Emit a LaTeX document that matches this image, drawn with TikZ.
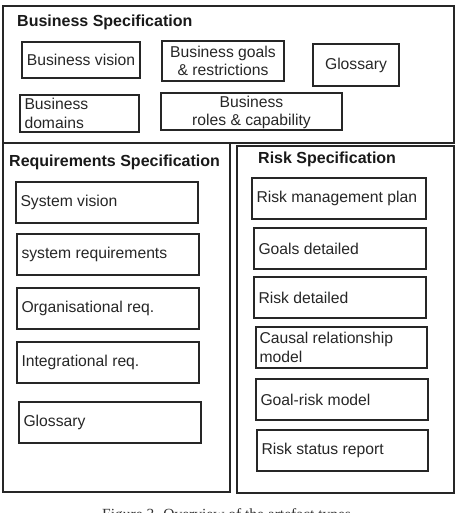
\documentclass[tikz,border=0pt]{standalone}
\usepackage{fontspec}
\setmainfont{Liberation Sans}
\newfontfamily\capfont{Liberation Serif}
\usetikzlibrary{fit}
\begin{document}
\begin{tikzpicture}[x=1pt,y=-1pt,
 outer/.style={draw=black!85, line width=1.5pt, inner sep=0pt},
 inbox/.style={draw=black!85, line width=1.35pt, inner sep=0pt},
 title/.style={font=\fontsize{16}{19}\selectfont\bfseries, text=black!90, inner sep=0pt, anchor=base west},
 txt/.style={font=\fontsize{15.7}{18.5}\selectfont, text=black!85, inner sep=0pt, align=left, anchor=west},
 ctxt/.style={font=\fontsize{15.7}{18.5}\selectfont, text=black!85, inner sep=0pt, align=center, anchor=center}]
\useasboundingbox (0,0) rectangle (459,513);

% outer containers
\node[outer, fit={(3,6) (454,143)}] (bus) {};
\node[outer, fit={(3,143) (230,492)}] (req) {};
\node[outer, fit={(237,146) (454,493)}] (risk) {};

\node[title] (bust) at (17,27) {Business Specification};
\node[title] (reqt) at (9,166) {Requirements Specification};
\node[title] (riskt) at (258,164) {Risk Specification};

% business boxes
\node[inbox, fit={(22,42) (140,78)}] (bv) {};
\node[ctxt] (bvt) at (bv.center) {Business vision};
\node[inbox, fit={(162,41) (284,81)}] (bg) {};
\node[ctxt] (bgt) at (bg.center) {Business goals\\\& restrictions};
\node[inbox, fit={(313,44) (399,86)}] (bgl) {};
\node[ctxt] (bglt) at (bgl.center) {Glossary};
\node[inbox, fit={(20,95) (139,132)}] (bd) {};
\node[txt] (bdt) at ([xshift=5pt]bd.west) {Business\\domains};
\node[inbox, fit={(161,93) (342,130)}] (br) {};
\node[ctxt] (brt) at ([yshift=-1pt]br.center) {Business\\roles \& capability};

% requirements boxes
\node[inbox, fit={(16,182) (198,223)}] (sv) {};
\node[txt] (svt) at ([xshift=5pt]sv.west) {System vision};
\node[inbox, fit={(17,234) (199,275)}] (sr) {};
\node[txt] (srt) at ([xshift=5pt]sr.west) {system requirements};
\node[inbox, fit={(17,288) (199,329)}] (org) {};
\node[txt] (orgt) at ([xshift=5pt]org.west) {Organisational req.};
\node[inbox, fit={(17,342) (199,383)}] (intg) {};
\node[txt] (intgt) at ([xshift=5pt]intg.west) {Integrational req.};
\node[inbox, fit={(19,402) (201,443)}] (rgl) {};
\node[txt] (rglt) at ([xshift=5pt]rgl.west) {Glossary};

% risk boxes
\node[inbox, fit={(252,178) (426,219)}] (rmp) {};
\node[txt] (rmpt) at ([xshift=5pt]rmp.west) {Risk management plan};
\node[inbox, fit={(254,228) (426,269)}] (gd) {};
\node[txt] (gdt) at ([xshift=5pt]gd.west) {Goals detailed};
\node[inbox, fit={(254,277) (426,318)}] (rd) {};
\node[txt] (rdt) at ([xshift=5pt]rd.west) {Risk detailed};
\node[inbox, fit={(256,327) (427,368)}] (crm) {};
\node[txt] (crmt) at ([xshift=4pt]crm.west) {Causal relationship\\model};
\node[inbox, fit={(256,379) (428,420)}] (grm) {};
\node[txt] (grmt) at ([xshift=5pt]grm.west) {Goal-risk model};
\node[inbox, fit={(257,430) (428,471)}] (rsr) {};
\node[txt] (rsrt) at ([xshift=5pt]rsr.west) {Risk status report};

% caption, cut off at the lower edge as in the reference
\begin{scope}
\clip (0,0) rectangle (459,513);
\node[font=\capfont\fontsize{15.5}{18}\selectfont, text=black!80, anchor=base west, inner sep=0pt] (caption) at (102,519) {Figure 3. Overview of the artefact types};
\end{scope}
\end{tikzpicture}
\end{document}
